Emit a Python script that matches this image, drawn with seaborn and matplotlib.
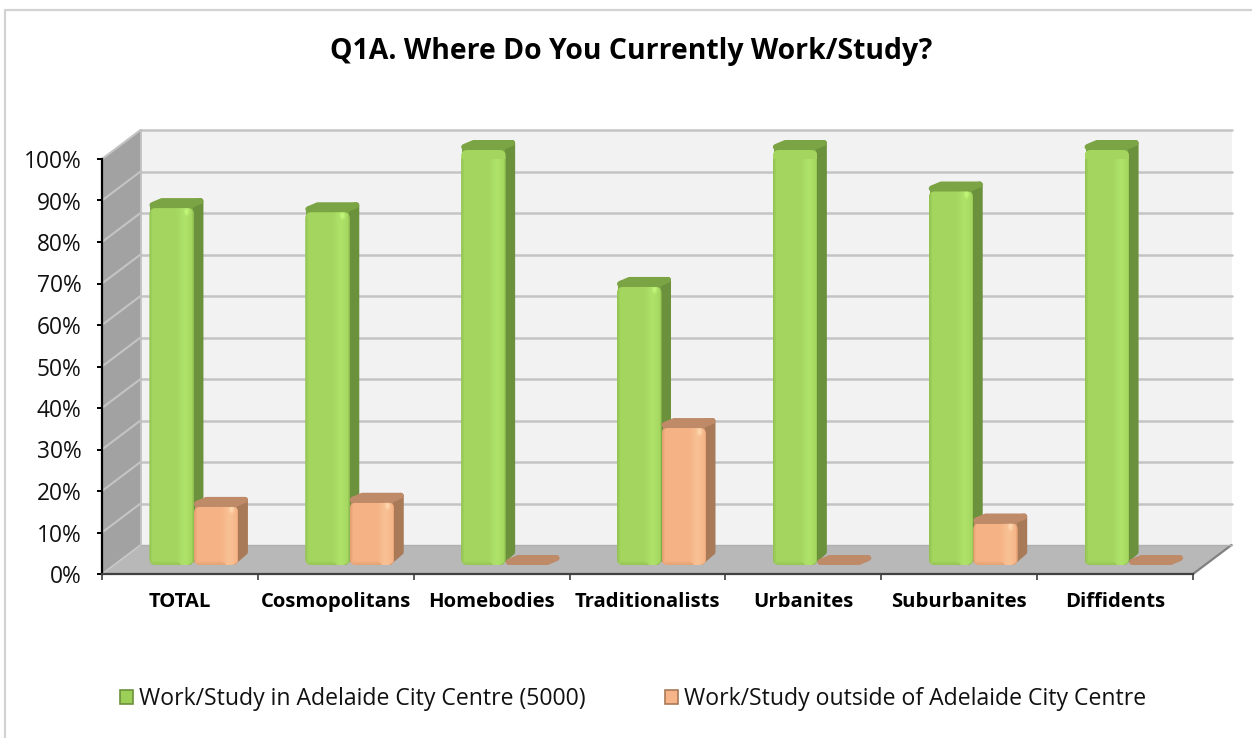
import numpy as np
import pandas as pd
import matplotlib
matplotlib.use("Agg")
import matplotlib.pyplot as plt
import seaborn as sns
from matplotlib.lines import Line2D
from matplotlib.patches import FancyBboxPatch, Patch, Polygon
from matplotlib.transforms import Affine2D, IdentityTransform

categories = ["TOTAL", "Cosmopolitans", "Homebodies", "Traditionalists",
              "Urbanites", "Suburbanites", "Diffidents"]
series_names = ["Work/Study in Adelaide City Centre (5000)",
                "Work/Study outside of Adelaide City Centre"]
inside_values = [86, 85, 100, 67, 100, 90, 100]
outside_values = [14, 15, 0, 33, 0, 10, 0]
y_ticks = list(range(0, 101, 10))
title = "Q1A. Where Do You Currently Work/Study?"

W, H = 1252, 738
sns.set_theme(style="white")
plt.rcParams["font.family"] = ["Open Sans", "DejaVu Sans"]

df = pd.DataFrame({
    "category": categories * 2,
    "share": inside_values + outside_values,
    "series": [series_names[0]] * 7 + [series_names[1]] * 7,
})

fig = plt.figure(figsize=(W / 100, H / 100), dpi=100, facecolor="white")
ax = fig.add_axes([102 / W, 1 - 574 / H, (1193 - 102) / W, (574 - 159) / H])
ax.patch.set_visible(False)
sns.barplot(data=df, x="category", y="share", hue="series", order=categories,
            hue_order=series_names, palette=["#A4D55F", "#F5B385"], width=0.571,
            gap=0, saturation=1, legend=False, ax=ax, linewidth=0)
ax.set_xlim(-0.5, 6.5)
ax.set_ylim(0, 100)
ax.set_xlabel("")
ax.set_ylabel("")
bars = list(ax.patches)

I = IdentityTransform()
WALL_D = np.array([38.5, 29.0])      # depth of the chart box, px
BAR_OFF = np.array([14.0, 9.0])      # bar base inside the box, px
BAR_D = np.array([9.5, 10.0])        # depth of a bar, px


def disp(x, y):
    return ax.transData.transform((x, y))


# walls and floor
xl, xr = -0.5, 6.5
p00, p10, p01 = disp(xl, 0), disp(xr, 0), disp(xl, 100)
p11 = disp(xr, 100)
ax.add_patch(Polygon([p00 + WALL_D, p10 + WALL_D, p11 + WALL_D, p01 + WALL_D],
                     transform=I, fc="#F2F2F2", ec="none", zorder=0.5, clip_on=False))
ax.add_patch(Polygon([p00, p00 + WALL_D, p01 + WALL_D, p01],
                     transform=I, fc="#A2A2A2", ec="none", zorder=0.6, clip_on=False))
ax.add_patch(Polygon([p00, p10, p10 + WALL_D, p00 + WALL_D],
                     transform=I, fc="#B8B8B8", ec="none", zorder=0.7, clip_on=False))
for v in y_ticks[1:]:
    a = disp(xl, v)
    b = a + WALL_D
    c = disp(xr, v) + WALL_D
    ax.add_line(Line2D([a[0], b[0]], [a[1], b[1]], transform=I, color="#C4C4C4",
                       lw=1.5, zorder=0.8, clip_on=False))
    ax.add_line(Line2D([b[0], c[0]], [b[1], c[1]], transform=I, color="#C4C4C4",
                       lw=1.8, zorder=0.8, clip_on=False))
ax.add_line(Line2D([p00[0] + WALL_D[0]] * 2, [p00[1] + WALL_D[1], p01[1] + WALL_D[1]],
                   transform=I, color="#BEBEBE", lw=1.2, zorder=0.8, clip_on=False))
ax.add_line(Line2D([p10[0], p10[0] + WALL_D[0]], [p10[1], p10[1] + WALL_D[1]],
                   transform=I, color="#808080", lw=1.6, zorder=0.85, clip_on=False))
ax.add_line(Line2D([p00[0], p00[0] + WALL_D[0]], [p00[1], p00[1] + WALL_D[1]],
                   transform=I, color="#C8C8C8", lw=1.2, zorder=0.85, clip_on=False))
ax.add_line(Line2D([p00[0] + WALL_D[0], p10[0] + WALL_D[0]],
                   [p00[1] + WALL_D[1]] * 2, transform=I, color="#B0B0B0",
                   lw=1, zorder=0.85, clip_on=False))

# 3D look of the seaborn bars
STYLE = [dict(side="#6C913C", top="#7BA444", edge=(0.35, 0.52, 0.14), hi=(0.78, 1.0, 0.50)),
         dict(side="#A97A58", top="#BE8A68", edge=(0.65, 0.38, 0.20), hi=(1.0, 0.88, 0.72))]
ROUND = 3.0   # half the soft outline, px


def soft_poly(pts, color, z):
    pts = np.asarray(pts, float)
    c = pts.mean(axis=0)
    pts = pts - np.sign(pts - c) * ROUND
    ax.add_patch(Polygon(pts, closed=True, transform=I, fc=color, ec=color, lw=2 * ROUND / 1.389,
                         joinstyle="round", zorder=z, clip_on=False))


n = len(categories)
offset = Affine2D().translate(*BAR_OFF)
dx, dy = BAR_D
for i, bar in enumerate(bars):
    st = STYLE[i // n]
    z = 3 + i * 0.1
    (x0, y0), (x1, y1) = ax.transData.transform(bar.get_bbox().get_points())
    x0, x1, y0, y1 = x0 + BAR_OFF[0], x1 + BAR_OFF[0], y0 + BAR_OFF[1], y1 + BAR_OFF[1]
    bar.set_transform(ax.transData + offset)
    bar.set_zorder(z + 0.03)
    if y1 - y0 > 1:
        soft_poly([(x1 - 8, y0), (x1 + dx, y0 + dy), (x1 + dx, y1 + dy), (x1 - 8, y1)],
                  st["side"], z)
    soft_poly([(x0, y1), (x1, y1), (x1 + dx, y1 + dy), (x0 + dx, y1 + dy)], st["top"], z + 0.01)
    if y1 - y0 > 1:
        # top colour shows behind the rounded upper corners of the front face
        ax.add_patch(Polygon([(x0 + 1, y1 - 7), (x1 - 1, y1 - 7), (x1 - 1, y1 + 2), (x0 + 1, y1 + 2)],
                             transform=I, fc=st["top"], ec="none", zorder=z + 0.02, clip_on=False))
        r = 6.0
        box = FancyBboxPatch((x0 + r, y0 + r), x1 - x0 - 2 * r, y1 - y0 - 2 * r,
                             boxstyle=f"round,pad={r},rounding_size={r}", transform=I)
        clip = box.get_path()
        bar.set_clip_box(None)
        bar.set_clip_path(clip, I)
        # soft shading over the front face
        nx, ny = 44, max(int(y1 - y0), 2)
        u = np.linspace(0, 1, nx)[None, :]
        v = np.linspace(0, 1, ny)[:, None]
        rgba = np.zeros((ny, nx, 4))
        dark = np.clip(1 - u / 0.07, 0, 1) * 0.22 + np.clip((u - 0.95) / 0.05, 0, 1) * 0.22
        dark = np.maximum(dark, np.clip((v - (1 - 4 / ny)) * ny / 4, 0, 1) * 0.18)
        light = np.exp(-((u - 0.80) / 0.13) ** 2) * 0.30
        spot = np.exp(-((u - 0.84) / 0.07) ** 2 - ((v * ny - 3) / 5) ** 2) * 0.85
        bright = np.maximum(light, spot)
        a = np.maximum(dark, bright)
        mix = (bright >= dark)[..., None]
        rgba[..., :3] = mix * np.array(st["hi"]) + (~mix) * np.array(st["edge"])
        rgba[..., 3] = a
        im = ax.imshow(rgba, extent=(x0, x1, y0, y1), transform=I, aspect="auto",
                       zorder=z + 0.04, interpolation="bilinear")
        im.set_clip_box(None)
        im.set_clip_path(clip, I)
ax.set_xlim(xl, xr)
ax.set_ylim(0, 100)

# axes furniture
sns.despine(ax=ax, top=True, right=True)
for name, col in (("left", "black"), ("bottom", "#404040")):
    ax.spines[name].set_visible(True)
    ax.spines[name].set_color(col)
    ax.spines[name].set_linewidth(1.6)
ax.set_yticks(y_ticks)
ax.set_yticklabels([f"{v}%" for v in y_ticks], fontsize=16.4, color="#111111")
ax.set_xticks(range(n))
ax.set_xticklabels(categories, fontsize=14.6, fontweight="bold", color="black")
ax.set_xticks(np.arange(-0.5, n), minor=True)
ax.tick_params(axis="x", which="major", length=0, pad=13.2)
ax.tick_params(axis="x", which="minor", length=4.5, width=1.2, color="#404040", bottom=True)
ax.tick_params(axis="y", which="major", length=3.6, width=1.4, color="black", left=True, pad=11)

fig.text(631 / W, 1 - 51 / H, title, ha="center", va="center", fontsize=20.4,
         fontweight="bold", color="black")

handles = [Patch(facecolor="#9CCF58", edgecolor="#6C913C", linewidth=1.2),
           Patch(facecolor="#F6B488", edgecolor="#A97A58", linewidth=1.2)]
fig.legend(handles, series_names, loc="center left", ncols=2, frameon=False,
           bbox_to_anchor=(120 / W, 1 - 699 / H), fontsize=16.6, handlelength=0.58,
           handleheight=0.58, handletextpad=0.26, columnspacing=3.42, borderpad=0,
           borderaxespad=0, labelcolor="#111111")

# chart-area border
fig.add_artist(Line2D([5 / W, 5 / W], [0, 1 - 10 / H], color="#D2D2D2", lw=1.6))
fig.add_artist(Line2D([5 / W, 1], [1 - 10 / H, 1 - 10 / H], color="#D2D2D2", lw=1.6))

fig.savefig("out.png", dpi=100, facecolor="white")
